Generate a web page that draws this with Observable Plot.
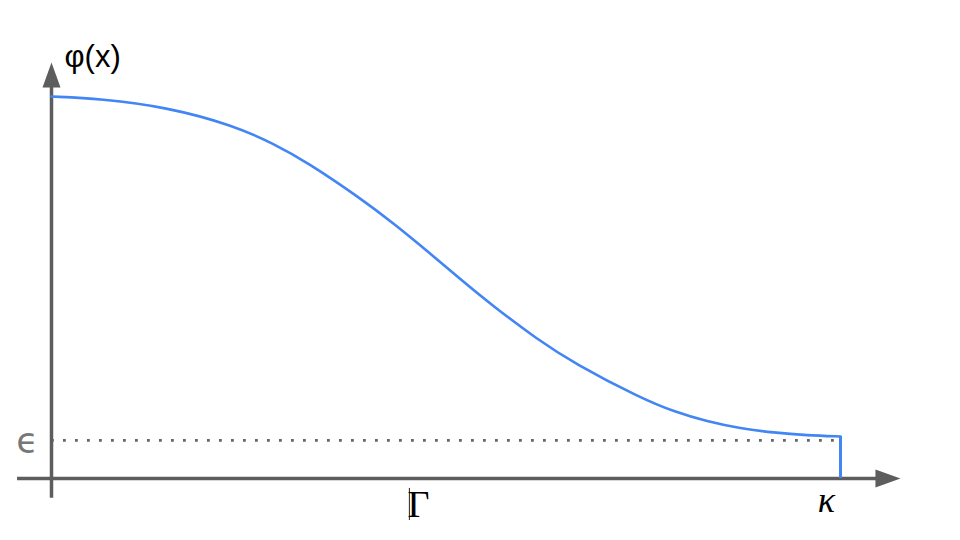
<!DOCTYPE html>
<html>
<head>
<meta charset="utf-8">
<script src="https://cdn.jsdelivr.net/npm/d3@7"></script>
<script src="https://cdn.jsdelivr.net/npm/@observablehq/plot@0.6"></script>
<style>
  html, body { margin: 0; padding: 0; background: #fff; }
  #chart svg { display: block; }
</style>
</head>
<body>
<div id="chart"></div>
<script>
// Curve φ(x), x in units of κ (κ = 1), y normalised so φ(0) = 1
const curveX = [0, 0.062, 0.147, 0.231, 0.281, 0.324, 0.392, 0.434, 0.476, 0.518, 0.561, 0.616, 0.662, 0.747, 0.789, 0.831, 0.873, 0.915, 0.958, 1.0];
const curveY = [1.0, 0.994, 0.972, 0.924, 0.877, 0.828, 0.733, 0.667, 0.596, 0.522, 0.449, 0.364, 0.302, 0.210, 0.175, 0.149, 0.131, 0.120, 0.113, 0.110];

const epsilon = 0.1;
const kappa = 1.0;
const gammaX = 0.465;

// axis extents (data units)
const xAxisRange = [-0.043, 1.046];
const xArrowTip = [1.076];
const yAxisRange = [-0.052, 1.024];
const yArrowTip = [1.089];

// labels
const labels = ["φ(x)", "ϵ", "Γ", "κ"];

const curve = curveX.map((x, i) => ({x, y: curveY[i]}));

const arrowUp = {
  draw(context) {
    context.moveTo(0, 0);
    context.lineTo(-9, 25);
    context.lineTo(9, 25);
    context.closePath();
  }
};

const axisColor = "#5d5d5d";
const blue = "#4285f4";

const chart = Plot.plot({
  width: 960,
  height: 540,
  margin: 0,
  x: {domain: [0, 1], range: [51, 840], axis: null},
  y: {domain: [0, 1], range: [478, 96], axis: null},
  marks: [
    // dotted epsilon line
    Plot.ruleY([epsilon], {x1: 0, x2: kappa, stroke: "#666", strokeWidth: 2.8, strokeDasharray: "2.8,9.2"}),
    // axes
    Plot.ruleY([0], {x1: xAxisRange[0], x2: xAxisRange[1], stroke: axisColor, strokeWidth: 3.5}),
    Plot.ruleX([0], {y1: yAxisRange[0], y2: yAxisRange[1], stroke: axisColor, strokeWidth: 3.5}),
    Plot.dot(yArrowTip, {x: 0, y: d => d, symbol: arrowUp, fill: axisColor, stroke: "none"}),
    Plot.dot(xArrowTip, {x: d => d, y: 0, symbol: arrowUp, rotate: 90, fill: axisColor, stroke: "none"}),
    // curve
    Plot.line(curve, {x: "x", y: "y", stroke: blue, strokeWidth: 2.6, curve: "basis"}),
    Plot.ruleX([kappa], {y1: 0, y2: curveY[curveY.length - 1], stroke: blue, strokeWidth: 3}),
    // labels
    Plot.text([labels[0]], {x: 0, y: 1.102, text: d => d, textAnchor: "start", dx: 13, fontSize: 31, fill: "#000", fontFamily: "Liberation Sans, Arial, sans-serif"}),
    Plot.text([labels[1]], {x: 0, y: epsilon, text: d => d, textAnchor: "end", dx: -13, dy: 1, fontSize: 36, fill: "#777", fontFamily: "DejaVu Sans, sans-serif"}),
    Plot.ruleX([gammaX], {y1: -0.026, y2: -0.110, dx: -9, stroke: "#222", strokeWidth: 1}),
    Plot.text([labels[2]], {x: gammaX, y: -0.068, text: d => d, fontSize: 38, fill: "#000", fontFamily: "Liberation Serif, Times New Roman, serif"}),
    Plot.text([labels[3]], {x: kappa, y: -0.058, text: d => d, dx: -14, fontSize: 36, fontStyle: "italic", fill: "#000", fontFamily: "Liberation Serif, Times New Roman, serif"})
  ]
});

document.getElementById("chart").appendChild(chart);
</script>
</body>
</html>
